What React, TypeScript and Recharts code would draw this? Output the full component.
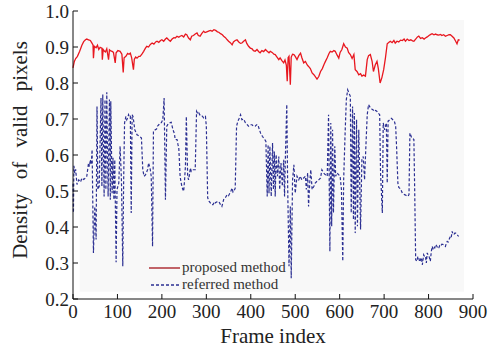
import { LineChart, Line, XAxis, YAxis, ReferenceArea } from 'recharts'

const xTicks = [0, 100, 200, 300, 400, 500, 600, 700, 800, 900]
const yTicks = [0.2, 0.3, 0.4, 0.5, 0.6, 0.7, 0.8, 0.9, 1.0]

// proposed method (red)
const redFrames = [
  0, 3, 6, 10, 15, 20, 24, 28, 31, 35, 39, 42, 45, 46, 48, 52, 55, 58, 61, 65, 66, 68, 71, 73, 76, 80, 82, 85, 88, 91,
  95, 97, 101, 106, 110, 113, 115, 119, 123, 126, 129, 132, 136, 138, 141, 144, 148, 151, 155, 159, 163, 166, 170, 174,
  178, 182, 186, 189, 193, 197, 200, 204, 208, 211, 215, 219, 223, 227, 230, 234, 238, 241, 245, 249, 253, 256, 260,
  264, 267, 271, 275, 279, 282, 286, 290, 294, 297, 301, 305, 309, 313, 317, 321, 325, 328, 332, 336, 339, 343, 347,
  350, 354, 358, 361, 365, 369, 373, 377, 380, 384, 388, 391, 395, 399, 403, 406, 410, 414, 418, 421, 425, 429, 433,
  437, 441, 444, 448, 452, 455, 459, 463, 466, 470, 474, 477, 480, 482, 484, 486, 489, 491, 494, 497, 500, 504, 508,
  512, 515, 519, 523, 527, 530, 534, 538, 542, 546, 549, 553, 557, 561, 565, 568, 572, 576, 579, 583, 587, 590, 594,
  598, 601, 605, 609, 613, 617, 620, 624, 628, 632, 635, 639, 643, 647, 650, 654, 658, 662, 665, 669, 673, 676, 680,
  684, 687, 691, 695, 699, 703, 707, 711, 714, 718, 722, 725, 729, 733, 737, 741, 745, 748, 752, 756, 760, 764, 767,
  771, 775, 778, 782, 786, 790, 793, 797, 801, 805, 808, 812, 816, 819, 823, 827, 830, 834, 838, 842, 846, 849, 853,
  857, 861, 864, 867, 870,
]
const redDensity = [
  0.842, 0.86, 0.868, 0.874, 0.888, 0.905, 0.915, 0.92, 0.922, 0.92, 0.918, 0.912, 0.906, 0.869, 0.902, 0.898, 0.905,
  0.893, 0.899, 0.897, 0.865, 0.893, 0.888, 0.886, 0.895, 0.865, 0.892, 0.889, 0.888, 0.885, 0.856, 0.884, 0.89, 0.888,
  0.88, 0.829, 0.87, 0.874, 0.882, 0.88, 0.883, 0.87, 0.837, 0.866, 0.872, 0.869, 0.874, 0.874, 0.88, 0.888, 0.897,
  0.902, 0.9, 0.907, 0.911, 0.908, 0.914, 0.916, 0.913, 0.918, 0.92, 0.916, 0.922, 0.925, 0.92, 0.916, 0.922, 0.926,
  0.925, 0.93, 0.927, 0.93, 0.932, 0.928, 0.936, 0.934, 0.925, 0.92, 0.93, 0.932, 0.936, 0.939, 0.932, 0.93, 0.938,
  0.944, 0.94, 0.942, 0.944, 0.946, 0.944, 0.948, 0.946, 0.942, 0.941, 0.937, 0.934, 0.93, 0.926, 0.92, 0.916, 0.912,
  0.906, 0.914, 0.918, 0.92, 0.914, 0.91, 0.911, 0.916, 0.92, 0.91, 0.902, 0.897, 0.895, 0.89, 0.888, 0.893, 0.887,
  0.884, 0.89, 0.887, 0.893, 0.888, 0.884, 0.888, 0.885, 0.88, 0.879, 0.872, 0.865, 0.87, 0.862, 0.856, 0.864, 0.85,
  0.805, 0.87, 0.874, 0.795, 0.872, 0.88, 0.879, 0.874, 0.865, 0.876, 0.883, 0.87, 0.856, 0.86, 0.85, 0.846, 0.84,
  0.828, 0.823, 0.816, 0.811, 0.818, 0.832, 0.84, 0.852, 0.86, 0.87, 0.882, 0.888, 0.886, 0.89, 0.888, 0.878, 0.869,
  0.885, 0.893, 0.909, 0.9, 0.897, 0.885, 0.879, 0.868, 0.879, 0.837, 0.832, 0.823, 0.826, 0.819, 0.822, 0.819, 0.865,
  0.876, 0.879, 0.86, 0.832, 0.85, 0.86, 0.84, 0.8, 0.815, 0.837, 0.87, 0.909, 0.913, 0.916, 0.912, 0.918, 0.911, 0.916,
  0.914, 0.919, 0.918, 0.922, 0.916, 0.922, 0.918, 0.92, 0.917, 0.916, 0.922, 0.928, 0.93, 0.924, 0.926, 0.922, 0.925,
  0.928, 0.932, 0.935, 0.937, 0.934, 0.936, 0.934, 0.933, 0.935, 0.932, 0.934, 0.93, 0.932, 0.934, 0.934, 0.93, 0.925,
  0.916, 0.909, 0.92, 0.919,
]

// referred method (blue, dashed)
const blueFrames = [
  0, 1, 2, 4, 6, 8, 9, 13, 17, 20, 24, 28, 31, 35, 37, 39, 41, 43, 46, 49, 52, 54, 56, 59, 63, 65, 67, 70, 72, 74, 76,
  79, 82, 84, 85, 88, 90, 92, 94, 97, 99, 103, 106, 109, 112, 114, 116, 119, 121, 123, 125, 127, 129, 131, 133, 135,
  137, 139, 142, 144, 147, 150, 154, 157, 160, 163, 165, 168, 170, 172, 174, 176, 179, 181, 185, 188, 190, 193, 196,
  199, 202, 205, 208, 211, 214, 217, 221, 223, 225, 228, 230, 234, 236, 238, 241, 243, 245, 247, 249, 251, 253, 255,
  258, 260, 262, 264, 266, 268, 271, 275, 278, 281, 283, 286, 288, 291, 294, 298, 300, 303, 306, 309, 312, 315, 318,
  320, 324, 328, 332, 335, 339, 343, 347, 350, 353, 356, 358, 360, 362, 365, 368, 371, 374, 377, 380, 384, 388, 391,
  395, 399, 403, 406, 410, 413, 416, 419, 422, 426, 429, 432, 434, 437, 439, 441, 443, 446, 449, 451, 453, 455, 457,
  460, 463, 465, 468, 471, 474, 476, 478, 481, 483, 486, 489, 491, 494, 497, 500, 504, 508, 511, 515, 519, 523, 525,
  528, 530, 533, 535, 538, 542, 545, 549, 553, 557, 560, 564, 568, 572, 575, 578, 580, 582, 584, 586, 589, 591, 594,
  598, 601, 604, 607, 609, 612, 615, 618, 621, 624, 626, 629, 631, 633, 635, 638, 640, 643, 647, 650, 653, 656, 659,
  662, 665, 669, 672, 675, 677, 681, 684, 687, 690, 692, 696, 698, 701, 703, 705, 707, 709, 713, 716, 718, 721, 723,
  726, 728, 731, 733, 735, 738, 741, 743, 746, 749, 752, 754, 756, 758, 760, 762, 765, 767, 769, 771, 774, 776, 778,
  780, 782, 784, 786, 789, 791, 793, 795, 797, 799, 801, 804, 806, 808, 810, 812, 814, 816, 819, 821, 823, 825, 827,
  830, 834, 838, 840, 842, 844, 846, 849, 851, 853, 855, 857, 859, 861, 864, 866, 868,
]
const blueDensity = [
  0.52, 0.44, 0.57, 0.55, 0.56, 0.531, 0.518, 0.531, 0.525, 0.536, 0.532, 0.536, 0.541, 0.578, 0.568, 0.587, 0.574,
  0.615, 0.328, 0.457, 0.365, 0.735, 0.504, 0.513, 0.758, 0.513, 0.768, 0.485, 0.754, 0.504, 0.774, 0.485, 0.754, 0.476,
  0.749, 0.494, 0.592, 0.476, 0.587, 0.302, 0.504, 0.522, 0.624, 0.531, 0.291, 0.531, 0.689, 0.707, 0.698, 0.703, 0.712,
  0.705, 0.707, 0.439, 0.712, 0.707, 0.69, 0.67, 0.662, 0.656, 0.654, 0.652, 0.647, 0.559, 0.541, 0.545, 0.55, 0.56,
  0.578, 0.57, 0.559, 0.541, 0.346, 0.666, 0.67, 0.672, 0.68, 0.684, 0.689, 0.69, 0.698, 0.758, 0.476, 0.68, 0.686,
  0.689, 0.691, 0.68, 0.67, 0.66, 0.643, 0.643, 0.63, 0.62, 0.541, 0.525, 0.513, 0.505, 0.499, 0.53, 0.569, 0.707, 0.541,
  0.531, 0.545, 0.564, 0.555, 0.559, 0.559, 0.559, 0.721, 0.714, 0.717, 0.71, 0.707, 0.708, 0.703, 0.707, 0.68, 0.481,
  0.472, 0.467, 0.462, 0.462, 0.47, 0.467, 0.47, 0.471, 0.462, 0.457, 0.476, 0.482, 0.49, 0.487, 0.494, 0.502, 0.508,
  0.497, 0.499, 0.508, 0.68, 0.694, 0.702, 0.712, 0.698, 0.7, 0.689, 0.686, 0.68, 0.684, 0.684, 0.68, 0.68, 0.684, 0.684,
  0.672, 0.661, 0.652, 0.647, 0.642, 0.638, 0.485, 0.629, 0.494, 0.624, 0.485, 0.633, 0.504, 0.61, 0.485, 0.601, 0.541,
  0.596, 0.504, 0.578, 0.513, 0.587, 0.485, 0.601, 0.74, 0.513, 0.291, 0.457, 0.258, 0.531, 0.573, 0.494, 0.541, 0.531,
  0.541, 0.531, 0.536, 0.541, 0.504, 0.55, 0.457, 0.531, 0.559, 0.504, 0.513, 0.522, 0.527, 0.531, 0.536, 0.559, 0.55,
  0.545, 0.541, 0.712, 0.332, 0.689, 0.402, 0.67, 0.439, 0.624, 0.541, 0.55, 0.545, 0.541, 0.504, 0.305, 0.531, 0.652,
  0.754, 0.781, 0.772, 0.763, 0.439, 0.735, 0.42, 0.717, 0.383, 0.698, 0.402, 0.67, 0.393, 0.587, 0.596, 0.531, 0.624,
  0.712, 0.74, 0.731, 0.728, 0.726, 0.721, 0.724, 0.721, 0.716, 0.712, 0.55, 0.439, 0.689, 0.67, 0.68, 0.689, 0.522,
  0.694, 0.698, 0.702, 0.7, 0.696, 0.694, 0.68, 0.624, 0.522, 0.51, 0.508, 0.503, 0.494, 0.492, 0.49, 0.488, 0.485,
  0.486, 0.49, 0.661, 0.655, 0.647, 0.645, 0.643, 0.485, 0.309, 0.305, 0.318, 0.314, 0.303, 0.309, 0.315, 0.295, 0.323,
  0.318, 0.319, 0.3, 0.328, 0.322, 0.319, 0.305, 0.33, 0.346, 0.34, 0.346, 0.342, 0.351, 0.346, 0.34, 0.342, 0.348,
  0.346, 0.352, 0.351, 0.346, 0.355, 0.36, 0.358, 0.365, 0.374, 0.371, 0.388, 0.38, 0.379, 0.383, 0.383, 0.379, 0.376,
  0.374,
]

const redData = redFrames.map((f, i) => ({ frame: f, density: redDensity[i] }))
const blueData = blueFrames.map((f, i) => ({ frame: f, density: blueDensity[i] }))

const FONT = "'Liberation Serif', 'DejaVu Serif', serif"
const RED = '#e8171f'
const BLUE = '#2b2f92'

const tickStyle = { fontSize: 19, fill: '#222', fontFamily: FONT }

function LegendBox() {
  return (
    <div
      style={{
        position: 'absolute',
        left: 148,
        top: 259,
        fontSize: 15,
        color: '#333',
        lineHeight: '17px',
      }}
    >
      <div style={{ display: 'flex', alignItems: 'center' }}>
        <svg width={33} height={10}>
          <line x1={1} y1={5} x2={32} y2={5} stroke="#a3121a" strokeWidth={1.3} />
        </svg>
        <span style={{ marginLeft: 1 }}>proposed method</span>
      </div>
      <div style={{ display: 'flex', alignItems: 'center' }}>
        <svg width={33} height={10}>
          <line x1={3} y1={5} x2={32} y2={5} stroke={BLUE} strokeWidth={1.3} strokeDasharray="3 2" />
        </svg>
        <span style={{ marginLeft: 1 }}>referred method</span>
      </div>
    </div>
  )
}

export default function App() {
  return (
    <div
      style={{ position: 'absolute', left: 0, top: 0, width: 494, height: 348, background: '#fff', fontFamily: FONT }}
    >
      <style>{`.recharts-text, .recharts-cartesian-axis-tick-value { font-family: ${FONT}; }`}</style>
      <LineChart
        width={494}
        height={348}
        margin={{ top: 11, right: 21, left: 0, bottom: 0 }}
        style={{ fontFamily: FONT }}
      >
        <ReferenceArea x1={15} x2={880} y1={0.22} y2={0.975} fill="#f8f8f8" fillOpacity={1} stroke="none" />
        <XAxis
          dataKey="frame"
          type="number"
          domain={[0, 900]}
          ticks={xTicks}
          allowDuplicatedCategory={false}
          height={49}
          stroke="#111"
          tickSize={-5}
          tickMargin={11}
          tick={tickStyle}
        />
        <XAxis xAxisId="top" orientation="top" type="number" domain={[0, 900]} height={0} tick={false} tickLine={false} stroke="#111" />
        <YAxis
          type="number"
          domain={[0.2, 1.0]}
          ticks={yTicks}
          width={73}
          stroke="#111"
          tickSize={-5}
          tickMargin={9}
          tick={tickStyle}
          tickFormatter={(v: number) => v.toFixed(1)}
        />
        <YAxis yAxisId="right" orientation="right" type="number" domain={[0.2, 1.0]} width={0} tick={false} tickLine={false} stroke="#111" />
        <Line
          data={blueData}
          dataKey="density"
          type="linear"
          stroke={BLUE}
          strokeWidth={1.2}
          strokeDasharray="3 2"
          dot={false}
          isAnimationActive={false}
        />
        <Line
          data={redData}
          dataKey="density"
          type="linear"
          stroke={RED}
          strokeWidth={1.3}
          dot={false}
          isAnimationActive={false}
        />
      </LineChart>
      <LegendBox />
      <div
        style={{
          position: 'absolute',
          left: 0,
          top: 325,
          width: 494,
          paddingLeft: 52,
          boxSizing: 'border-box',
          textAlign: 'center',
          fontSize: 21,
          lineHeight: '22px',
          color: '#222',
        }}
      >
        Frame index
      </div>
      <div
        style={{
          position: 'absolute',
          left: 20,
          top: 150,
          transform: 'translate(-50%, -50%) rotate(-90deg)',
          whiteSpace: 'nowrap',
          fontSize: 21,
          wordSpacing: 9,
          color: '#222',
        }}
      >
        Density of valid pixels
      </div>
    </div>
  )
}
